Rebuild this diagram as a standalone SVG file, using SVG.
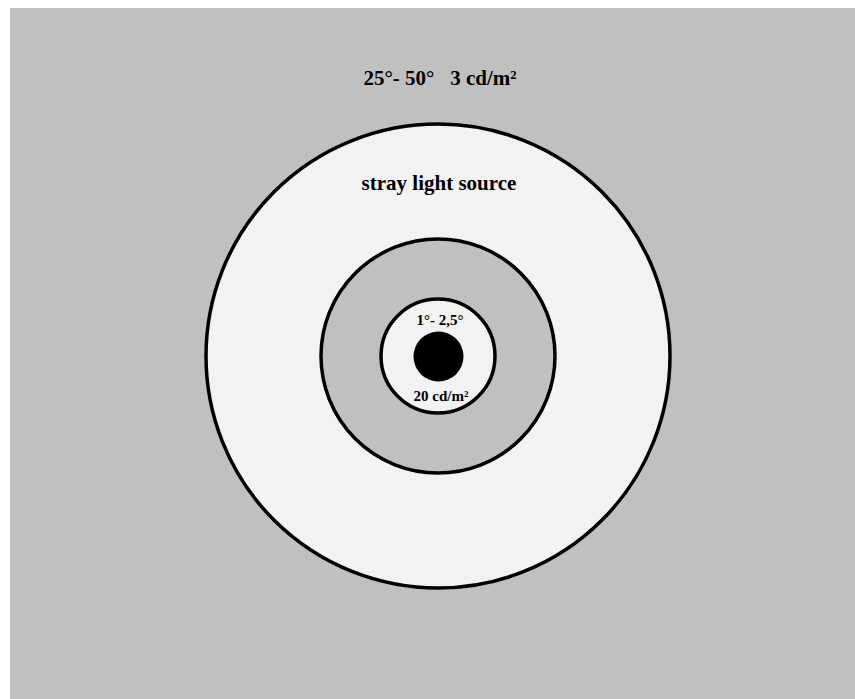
<svg xmlns="http://www.w3.org/2000/svg" width="855" height="699" viewBox="0 0 855 699">
<style>
.ring{stroke:#000;stroke-width:3.5}
.t{font-family:"Liberation Serif","Times New Roman",serif;font-weight:bold;fill:#000;text-anchor:middle}
</style>
<rect x="0" y="0" width="855" height="699" fill="#fff"/>
<rect id="background" x="10" y="8" width="845" height="691" fill="#c0c0c0"/>
<g id="outer">
<circle class="ring" cx="438" cy="356" r="232" fill="#f2f2f2"/>
<text class="t" x="439" y="190" font-size="21">stray light source</text>
</g>
<g id="middle">
<circle class="ring" cx="438" cy="356" r="117" fill="#c0c0c0"/>
</g>
<g id="inner">
<circle class="ring" cx="438" cy="356" r="57" fill="#f2f2f2"/>
<text class="t" x="440" y="325" font-size="15">1°- 2,5°</text>
<text class="t" x="441" y="401" font-size="15">20 cd/m²</text>
</g>
<g id="source">
<circle cx="438.5" cy="356.5" r="25" fill="#000"/>
</g>
<g id="label">
<text class="t" x="440" y="85" font-size="21" xml:space="preserve">25°- 50°   3 cd/m²</text>
</g>
<g id="connectors"/>
</svg>
